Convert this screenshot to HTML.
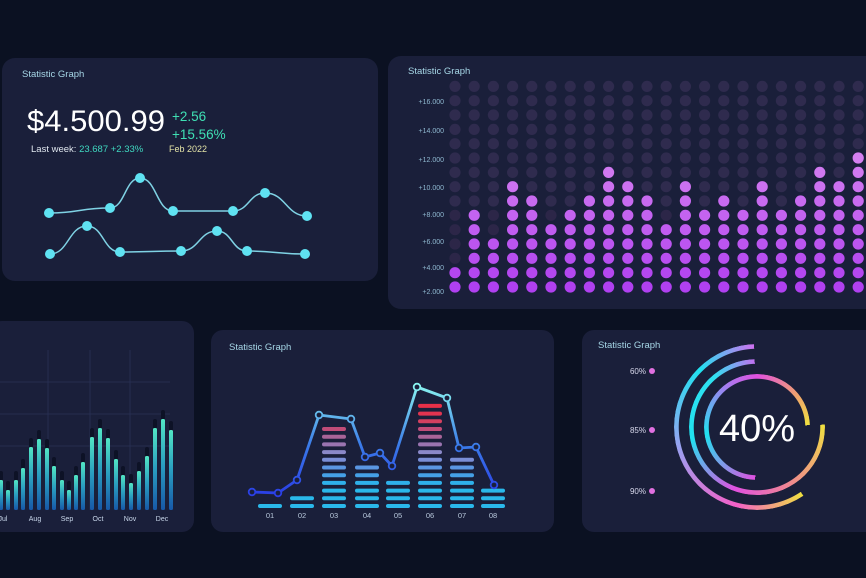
<!DOCTYPE html>
<html><head><meta charset="utf-8"><style>
html,body{margin:0;padding:0;background:#0b1122;}
body{width:866px;height:578px;position:relative;overflow:hidden;font-family:"Liberation Sans",sans-serif;}
svg{position:absolute;left:0;top:0;}
.ring{position:absolute;border-radius:50%;}
</style></head><body>
<svg id="s" width="866" height="578" viewBox="0 0 866 578">
<defs>
<linearGradient id="bg3" x1="0" y1="0" x2="0" y2="1"><stop offset="0" stop-color="#52e6c4"/><stop offset="0.5" stop-color="#2a9ec0"/><stop offset="1" stop-color="#1758a8"/></linearGradient>
<linearGradient id="lg4" gradientUnits="userSpaceOnUse" x1="0" y1="495" x2="0" y2="385"><stop offset="0" stop-color="#2a3ee6"/><stop offset="0.45" stop-color="#3a7ae8"/><stop offset="1" stop-color="#8af4f0"/></linearGradient>
<clipPath id="c3"><rect x="-10" y="321" width="204" height="211" rx="12"/></clipPath>
</defs>
<rect x="2" y="58" width="376" height="223" rx="13" fill="#1a1f3a"/>
<rect x="388" y="56" width="490" height="253" rx="13" fill="#1a1f3a"/>
<rect x="-10" y="321" width="204" height="211" rx="12" fill="#1a1f3a"/>
<rect x="211" y="330" width="343" height="202" rx="12" fill="#1a1f3a"/>
<rect x="582" y="330" width="300" height="202" rx="12" fill="#1a1f3a"/>
<g font-size="9.5" fill="#a6d6e6">
<text x="22" y="77">Statistic Graph</text>
<text x="408" y="74">Statistic Graph</text>
<text x="229" y="350">Statistic Graph</text>
<text x="598" y="348">Statistic Graph</text>
</g>
<text x="27" y="131" font-size="30" fill="#ffffff" textLength="138" lengthAdjust="spacingAndGlyphs">$4.500.99</text>
<text x="172" y="121" font-size="13.5" fill="#3fe0b4">+2.56</text>
<text x="172" y="139" font-size="13.5" fill="#3fe0b4">+15.56%</text>
<text x="31" y="152" font-size="9.5" fill="#dfe6ee">Last week: <tspan fill="#3fd8c0">23.687 +2.33%</tspan></text>
<text x="169" y="152" font-size="9" fill="#e2e2a6">Feb 2022</text>
<g id="p1" fill="none" stroke="#7fd2e4" stroke-width="1.5"></g>
<g font-size="7" fill="#8fb8d0" text-anchor="end">
<text x="444" y="104">+16.000</text><text x="444" y="133">+14.000</text><text x="444" y="162">+12.000</text><text x="444" y="190">+10.000</text><text x="444" y="217">+8.000</text><text x="444" y="244">+6.000</text><text x="444" y="270">+4.000</text><text x="444" y="294">+2.000</text>
</g>
<g id="p2"></g>
<g stroke="#2a3256" stroke-width="0.8" clip-path="url(#c3)">
<line x1="48" y1="350" x2="48" y2="510"/><line x1="90" y1="350" x2="90" y2="510"/><line x1="130" y1="350" x2="130" y2="510"/>
<line x1="0" y1="382" x2="170" y2="382"/><line x1="0" y1="414" x2="170" y2="414"/><line x1="0" y1="446" x2="170" y2="446"/>
</g>
<g id="p3" clip-path="url(#c3)"></g>
<g font-size="7" fill="#c8d6ea" text-anchor="middle">
<text x="3" y="521">Jul</text><text x="35" y="521">Aug</text><text x="67" y="521">Sep</text><text x="98" y="521">Oct</text><text x="130" y="521">Nov</text><text x="162" y="521">Dec</text>
</g>
<g id="p4"></g>
<g font-size="7.5" fill="#b8c8dc" text-anchor="middle">
<text x="270" y="518">01</text><text x="302" y="518">02</text><text x="334" y="518">03</text><text x="367" y="518">04</text><text x="398" y="518">05</text><text x="430" y="518">06</text><text x="462" y="518">07</text><text x="493" y="518">08</text>
</g>
<polyline points="252,492 278,493 297,480 319,415 351,419 365,457 380,453 392,466 417,387 447,398 459,448 476,447 494,485" fill="none" stroke="url(#lg4)" stroke-width="2.8" stroke-linejoin="round"/>
<g id="p4d" fill="#1a1f3a" stroke="url(#lg4)" stroke-width="1.8"></g>
<g font-size="8" fill="#d8d8ec" text-anchor="end">
<text x="646" y="374">60%</text><text x="646" y="433">85%</text><text x="646" y="494">90%</text>
</g>
<g fill="#e070e0"><circle cx="652" cy="371" r="3"/><circle cx="652" cy="430" r="3"/><circle cx="652" cy="491" r="3"/></g>
</svg>
<div class="ring" style="left:674px;top:344px;width:166px;height:166px;background:conic-gradient(transparent 0 146deg,#f0e040 146deg,#f460c8 195deg,#9aa0f0 255deg,#20e2f0 315deg,#d070f0 358deg,transparent 358deg);-webkit-mask:radial-gradient(circle,transparent 78px,#000 78.5px,#000 83px,transparent 83.5px);mask:radial-gradient(circle,transparent 78px,#000 78.5px,#000 83px,transparent 83.5px);"></div>
<div class="ring" style="left:689px;top:359px;width:136px;height:136px;background:conic-gradient(transparent 0 88deg,#f0e040 88deg,#f08890 150deg,#e050e0 200deg,#20e2f0 260deg,#30e0f0 320deg,#c070f0 358deg,transparent 358deg);-webkit-mask:radial-gradient(circle,transparent 63px,#000 63.5px,#000 68px,transparent 68.5px);mask:radial-gradient(circle,transparent 63px,#000 63.5px,#000 68px,transparent 68.5px);"></div>
<div class="ring" style="left:704px;top:374px;width:106px;height:106px;background:conic-gradient(#e050e0 0deg,#f0a070 50deg,#f0e040 88deg,transparent 88deg 182deg,#e050e0 182deg,#20e2f0 262deg,#a080f0 320deg,#e050e0 360deg);-webkit-mask:radial-gradient(circle,transparent 48px,#000 48.5px,#000 53px,transparent 53.5px);mask:radial-gradient(circle,transparent 48px,#000 48.5px,#000 53px,transparent 53.5px);"></div>
<div style="position:absolute;left:707px;top:405px;width:100px;text-align:center;font-size:38px;color:#fff;line-height:48px;">40%</div>
<script>
var NS="http://www.w3.org/2000/svg";
function el(p,t,a){var e=document.createElementNS(NS,t);for(var k in a)e.setAttribute(k,a[k]);p.appendChild(e);return e;}
var p1=document.getElementById('p1');
[[[49,213],[110,208],[140,178],[173,211],[233,211],[265,193],[307,216]],[[50,254],[87,226],[120,252],[181,251],[217,231],[247,251],[305,254]]].forEach(function(pts){
 var d="M"+pts[0][0]+","+pts[0][1];
 for(var i=1;i<pts.length;i++){var a=pts[i-1],b=pts[i],m=(a[0]+b[0])/2;d+=" C"+m+","+a[1]+" "+m+","+b[1]+" "+b[0]+","+b[1];}
 el(p1,'path',{d:d});
 pts.forEach(function(p){el(p1.parentNode,'circle',{cx:p[0],cy:p[1],r:5,fill:'#5fe2f2'});});
});
var p2=document.getElementById('p2');
var h=[2,6,4,8,7,5,6,7,9,8,7,5,8,6,7,6,8,6,7,9,8,10];
for(var c=0;c<22;c++){var x=455+c*19.2;for(var k=0;k<15;k++){var y=287-k*14.33;var f;
 if(k<h[c]){var t=k/10;var r=Math.round(176+t*40),g=Math.round(64+t*70),b=240;f='rgb('+r+','+g+','+b+')';}
 else f=k<6?'#2c2648':'#2f2b4e';
 el(p2,'circle',{cx:x.toFixed(1),cy:y.toFixed(1),r:5.6,fill:f});}}
var p3=document.getElementById('p3');
var bx=[-14,-7,1,8,16,23,31,39,47,54,62,69,76,83,92,100,108,116,123,131,139,147,155,163,171];
var bt=[470,478,480,490,480,468,447,439,448,466,480,490,475,462,437,428,438,459,475,483,471,456,428,419,430];
for(var i=0;i<bx.length;i++){el(p3,'rect',{x:bx[i]-2,y:bt[i]-9,width:4,height:10,rx:2,fill:'#0d1226'});
 el(p3,'rect',{x:bx[i]-2,y:bt[i],width:4,height:510-bt[i],rx:1.5,fill:'url(#bg3)'});}
var p4=document.getElementById('p4');
var cx=[270,302,334,367,398,430,462,493],n=[1,2,11,6,4,14,7,3];
var col=['#2ab8ea','#2ab8ea','#2ab8ea','#2fb0ea','#45a0e6','#5a96e2','#7a8ed6','#8a88c8','#9a74b0','#a86498','#c04c78','#d44060','#e23450','#e83048'];
for(var i=0;i<8;i++)for(var k=0;k<n[i];k++)el(p4,'rect',{x:cx[i]-12,y:(506-k*7.7-2).toFixed(1),width:24,height:4,rx:2,fill:col[k]});
var p4d=document.getElementById('p4d');
[[252,492],[278,493],[297,480],[319,415],[351,419],[365,457],[380,453],[392,466],[417,387],[447,398],[459,448],[476,447],[494,485]].forEach(function(p){el(p4d,'circle',{cx:p[0],cy:p[1],r:3.3});});
</script>
</body></html>
